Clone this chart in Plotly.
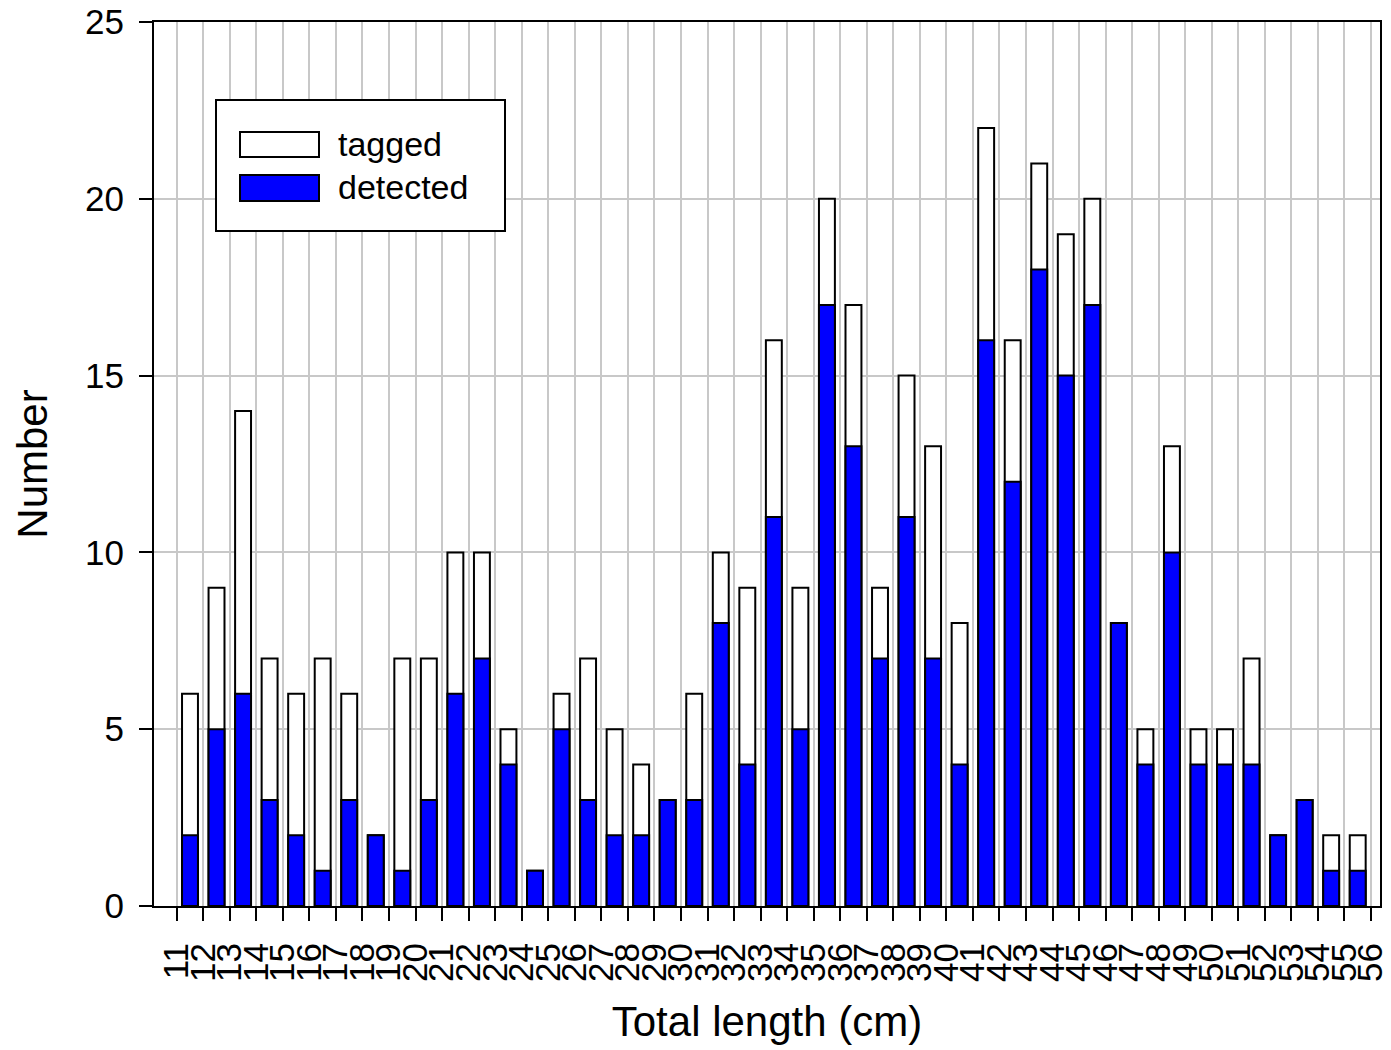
import plotly.graph_objects as go

# Total length bins (cm): each bar covers [length, length+1)
lengths = list(range(11, 56))
tagged = [6, 9, 14, 7, 6, 7, 6, 2, 7, 7, 10, 10, 5, 1, 6, 7, 5, 4, 3, 6,
          10, 9, 16, 9, 20, 17, 9, 15, 13, 8, 22, 16, 21, 19, 20, 8, 5, 13,
          5, 5, 7, 2, 3, 2, 2]
detected = [2, 5, 6, 3, 2, 1, 3, 2, 1, 3, 6, 7, 4, 1, 5, 3, 2, 2, 3, 3,
            8, 4, 11, 5, 17, 13, 7, 11, 7, 4, 16, 12, 18, 15, 17, 8, 4, 10,
            4, 4, 4, 2, 3, 1, 1]
tick_values = list(range(11, 57))
y_ticks = [0, 5, 10, 15, 20, 25]

FONT = "Liberation Sans, Arial, Helvetica, sans-serif"
BLUE = "#0000FF"
GRID = "#C8C8C8"

centers = [v + 0.5 for v in lengths]

fig = go.Figure()
fig.add_trace(go.Bar(
    x=centers, y=tagged, name="tagged", width=0.6,
    marker=dict(color="white", line=dict(color="black", width=2)),
    showlegend=False,
))
fig.add_trace(go.Bar(
    x=centers, y=detected, name="detected", width=0.6,
    marker=dict(color=BLUE, line=dict(color="black", width=2)),
    showlegend=False,
))

W, H = 1391, 1050
L, R, T, B = 154, 11, 22, 144

fig.update_layout(
    width=W, height=H,
    margin=dict(l=L, r=R, t=T, b=B, pad=0, autoexpand=False),
    barmode="overlay",
    paper_bgcolor="white", plot_bgcolor="white",
    font=dict(family=FONT, size=34, color="black"),
)

fig.update_xaxes(
    range=[10.144, 56.34],
    tickmode="array", tickvals=tick_values, ticktext=[str(v) for v in tick_values],
    tickangle=-90,
    ticks="outside", ticklen=13, tickwidth=2, tickcolor="black",
    showline=True, linecolor="black", linewidth=2, mirror=True,
    showgrid=True, gridcolor=GRID, gridwidth=2,
    zeroline=False, automargin=False,
    tickfont=dict(size=35), ticklabelstandoff=8,
    title=dict(text="Total length (cm)", font=dict(size=42), standoff=26),
)
fig.update_yaxes(
    range=[0, 25],
    tickmode="array", tickvals=y_ticks,
    ticks="outside", ticklen=13, tickwidth=2, tickcolor="black",
    showline=True, linecolor="black", linewidth=2, mirror=True,
    showgrid=True, gridcolor=GRID, gridwidth=2,
    zeroline=False, automargin=False,
    tickfont=dict(size=35), ticklabelstandoff=8,
    title=dict(text="Number", font=dict(size=42), standoff=24),
)

# Legend box drawn in pixel-equivalent paper coordinates
def px(x):
    return (x - L) / (W - L - R)

def py(y):
    return 1 - (y - T) / (H - T - B)

shapes = [
    dict(type="rect", xref="paper", yref="paper",
         x0=px(216), x1=px(505), y0=py(231), y1=py(100),
         line=dict(color="black", width=2), fillcolor="white", layer="above"),
    dict(type="rect", xref="paper", yref="paper",
         x0=px(240), x1=px(319), y0=py(157), y1=py(132),
         line=dict(color="black", width=2), fillcolor="white", layer="above"),
    dict(type="rect", xref="paper", yref="paper",
         x0=px(240), x1=px(319), y0=py(201), y1=py(175),
         line=dict(color="black", width=2), fillcolor=BLUE, layer="above"),
]
annotations = [
    dict(text="tagged", xref="paper", yref="paper", x=px(336), y=py(144),
         xanchor="left", yanchor="middle", showarrow=False, font=dict(size=34)),
    dict(text="detected", xref="paper", yref="paper", x=px(336), y=py(187),
         xanchor="left", yanchor="middle", showarrow=False, font=dict(size=34)),
]
fig.update_layout(shapes=shapes, annotations=annotations)

fig.write_html("out.html")
